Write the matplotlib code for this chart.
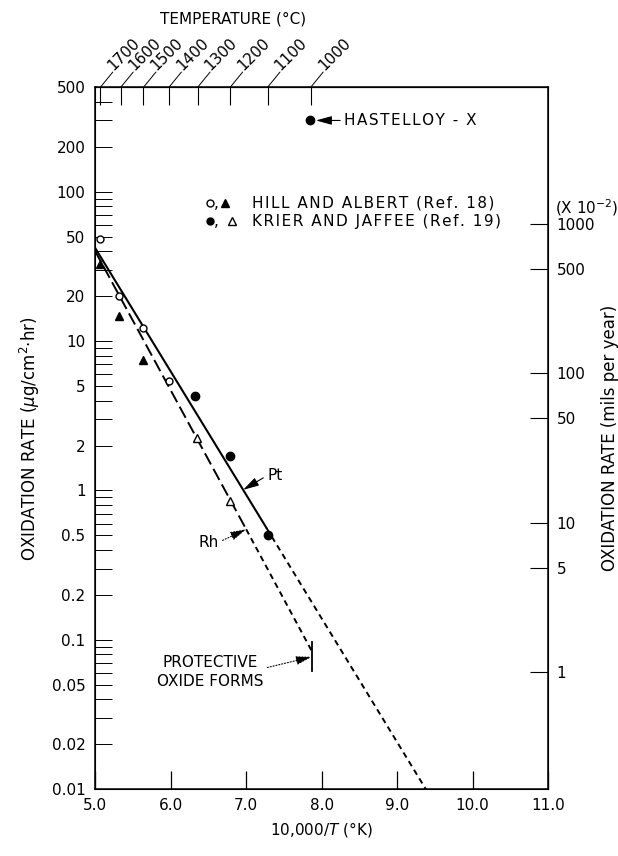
import numpy as np
import matplotlib.pyplot as plt
from matplotlib.ticker import LogLocator, NullFormatter, NullLocator

plt.rcParams['font.family'] = 'DejaVu Sans'

# Hill and Albert (Ref. 18): open circles = Pt, filled triangles = Rh
hill_pt_x = [5.07, 5.32, 5.63, 5.98]
hill_pt_y = [48, 20, 12.2, 5.4]
hill_rh_x = [5.07, 5.32, 5.63]
hill_rh_y = [33, 14.8, 7.5]

# Krier and Jaffee (Ref. 19): filled circles = Pt, open triangles = Rh
krier_pt_x = [6.32, 6.78, 7.29]
krier_pt_y = [4.3, 1.7, 0.5]
krier_rh_x = [6.35, 6.78]
krier_rh_y = [2.25, 0.85]

hastelloy_x = [7.85]
hastelloy_y = [300]

# fitted lines (measured range + extrapolation)
pt_fit_x = [5.0, 7.27]
pt_fit_y = [42, 0.56]
pt_extra_x = [7.27, 9.38]
pt_extra_y = [0.56, 0.01]
rh_fit_x = [5.0, 7.0]
rh_fit_y = [40, 0.55]
rh_extra_x = [7.0, 7.87]
rh_extra_y = [0.55, 0.084]
protective_y = [0.062, 0.097]

temps_c = [1700, 1600, 1500, 1400, 1300, 1200, 1100, 1000]
x_ticks = [5.0, 6.0, 7.0, 8.0, 9.0, 10.0, 11.0]
y_ticks = [0.01, 0.02, 0.05, 0.1, 0.2, 0.5, 1, 2, 5, 10, 20, 50, 100, 200, 500]
y_labels = ['0.01', '0.02', '0.05', '0.1', '0.2', '0.5', '1', '2', '5',
            '10', '20', '50', '100', '200', '500']
mils_ticks = [1, 5, 10, 50, 100, 500, 1000]
MILS_PER_UG = 16.4   # (x10^-2 mils/yr) per (ug/cm2.hr)

FS = 11


def on_line(xs, ys, x):
    # point on a straight line of the semilog plot
    return 10 ** np.interp(x, xs, np.log10(ys))


def spaced(s):
    # a little extra letter spacing (hair spaces)
    return '\u200a'.join(s)


fig = plt.figure(figsize=(6.18, 8.56), dpi=100)
ax = fig.add_axes([0.154, 0.078, 0.733, 0.820])
ax.set_yscale('log')
ax.set_xlim(5, 11)
ax.set_ylim(0.01, 500)

# ---- lines
ax.plot(pt_fit_x, pt_fit_y, color='k', lw=1.5, zorder=2)
ax.plot(pt_extra_x, pt_extra_y, color='k', lw=1.4, ls=(0, (3.0, 2.2)), zorder=2)
ax.plot(rh_fit_x, rh_fit_y, color='k', lw=1.4, ls=(0, (6.5, 2.6)), zorder=2)
ax.plot(rh_extra_x, rh_extra_y, color='k', lw=1.4, ls=(0, (3.0, 2.2)), zorder=2)
ax.plot([rh_extra_x[-1]] * 2, protective_y, color='k', lw=1.3, zorder=2)

# ---- data points
ax.plot(hill_pt_x, hill_pt_y, 'o', ms=5, mfc='white', mec='k', mew=1.0, zorder=3)
ax.plot(hill_rh_x, hill_rh_y, '^', ms=6, color='k', zorder=3)
ax.plot(krier_pt_x, krier_pt_y, 'o', ms=6, color='k', zorder=3)
ax.plot(krier_rh_x, krier_rh_y, '^', ms=5.5, mfc='white', mec='k', mew=1.0, zorder=3)
ax.plot(hastelloy_x, hastelloy_y, 'o', ms=6, color='k', zorder=3)

# ---- legend drawn by hand
leg_rows = [(0.835, 'o', 'white', '^', 'k', 'HILL AND ALBERT (Ref. 18)'),
            (0.809, 'o', 'k', '^', 'white', 'KRIER AND JAFFEE (Ref. 19)')]
for i, (ly, m1, f1, m2, f2, label) in enumerate(leg_rows):
    ax.plot([0.254], [ly], m1, ms=5, mfc=f1, mec='k', mew=1.0, transform=ax.transAxes)
    ax.text(0.263, ly - 0.007, ',', fontsize=FS, transform=ax.transAxes, va='baseline')
    ax.plot([0.287 + 0.016 * i], [ly], m2, ms=5.5, mfc=f2, mec='k', mew=1.0,
            transform=ax.transAxes)
    ax.text(0.347, ly, spaced(label), fontsize=FS, transform=ax.transAxes, va='center')

# ---- annotations
arrow = dict(arrowstyle='-|>,head_length=0.8,head_width=0.22', color='k',
             lw=0.8, mutation_scale=12, shrinkA=1, shrinkB=0)
ax.annotate(spaced('HASTELLOY - X'), xy=(hastelloy_x[0], hastelloy_y[0]),
            xytext=(8.3, 300), fontsize=FS, va='center', ha='left',
            arrowprops=dict(arrow, shrinkB=4, relpos=(0, 0.5)))
ax.annotate('Pt', xy=(6.96, on_line(pt_fit_x, pt_fit_y, 6.96)), xytext=(7.38, 1.26),
            fontsize=FS, va='center', ha='center',
            arrowprops=dict(arrow, relpos=(0, 0.5)))
ax.annotate('Rh', xy=(7.0, on_line(rh_fit_x, rh_fit_y, 7.0)), xytext=(6.5, 0.45),
            fontsize=FS, va='center', ha='center',
            arrowprops=dict(arrow, ls=':', relpos=(1, 0.5)))
ax.annotate('PROTECTIVE\nOXIDE FORMS', xy=(rh_extra_x[-1], 0.077), xytext=(6.52, 0.061),
            fontsize=FS, va='center', ha='center', multialignment='center',
            linespacing=1.35,
            arrowprops=dict(arrow, ls=':', relpos=(1, 0.6)))

# ---- bottom / left axes
ax.set_xticks(x_ticks, labels=[f'{v:.1f}' for v in x_ticks])
ax.tick_params(axis='x', direction='in', length=13, width=0.9, pad=6, labelsize=FS)
ax.set_yticks(y_ticks, labels=y_labels)
ax.yaxis.set_minor_locator(LogLocator(base=10, subs=range(2, 10)))
ax.yaxis.set_minor_formatter(NullFormatter())
ax.tick_params(axis='y', which='both', direction='in', length=12, width=0.7,
               pad=7, labelsize=FS)
ax.set_xlabel(r'10,000/$T$ (°K)', fontsize=FS, labelpad=5)
ax.set_ylabel(r'OXIDATION RATE ($\mu$g/cm$^2$$\cdot$hr)', fontsize=12, labelpad=7)
for s in ax.spines.values():
    s.set_linewidth(1.1)

# ---- right axis in mils per year
ax2 = ax.twinx()
ax2.set_yscale('log')
ax2.set_ylim(0.01 * MILS_PER_UG, 500 * MILS_PER_UG)
ax2.set_yticks(mils_ticks, labels=[str(v) for v in mils_ticks])
ax2.yaxis.set_minor_locator(NullLocator())
ax2.tick_params(axis='y', direction='in', length=13, width=0.8, pad=6, labelsize=FS)
ax2.set_ylabel('OXIDATION RATE (mils per year)', fontsize=12, labelpad=4)
ax2.text(1.015, 0.828, r'(X 10$^{-2}$)', fontsize=FS, transform=ax.transAxes,
         va='center', ha='left')

# ---- top axis: temperature
temp_x = [1e4 / (t + 273.15) for t in temps_c]
top = ax.secondary_xaxis('top')
top.set_xticks(temp_x, labels=[''] * len(temp_x))
top.tick_params(direction='in', length=13, width=0.8)
for t, x in zip(temps_c, temp_x):
    ax.annotate('', xy=(x, 1), xycoords=('data', 'axes fraction'),
                xytext=(9, 11), textcoords='offset points',
                arrowprops=dict(arrowstyle='-', lw=0.7, shrinkA=0, shrinkB=0))
    ax.annotate(str(t), xy=(x, 1), xycoords=('data', 'axes fraction'),
                xytext=(9.5, 11.5), textcoords='offset points', fontsize=FS,
                rotation=45, rotation_mode='anchor', ha='left', va='baseline')
fig.text(0.377, 0.978, 'TEMPERATURE (°C)', fontsize=FS, ha='center', va='center')

fig.savefig('out.png', dpi=100)
